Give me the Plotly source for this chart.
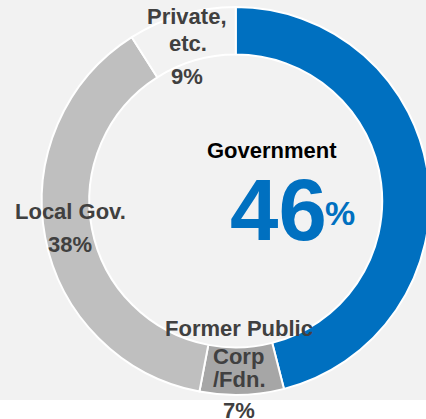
import plotly.graph_objects as go

# ---- data ----
categories = ["Government", "Former Public Corp/Fdn.", "Local Gov.", "Private, etc."]
shares = [46, 7, 38, 9]
slice_colors = ["#0070c0", "#a6a6a6", "#bfbfbf", "#f2f2f2"]

W, H = 430, 419

def px(x):
    return x / W

def py(y):
    return 1 - y / H

fig = go.Figure()
fig.add_trace(go.Pie(
    labels=categories,
    values=shares,
    sort=False,
    direction="clockwise",
    rotation=0,
    hole=0.755,
    marker=dict(colors=slice_colors, line=dict(color="white", width=2)),
    textinfo="none",
    hoverinfo="label+percent",
    showlegend=False,
    domain=dict(x=[px(41.5), 1.0], y=[py(395), py(7)]),
))

FONT = "Liberation Sans, Arial, sans-serif"
lab_font = dict(family=FONT, size=22, color="#404040")

def ann(text, x, y, font, **kw):
    fig.add_annotation(text=text, x=px(x), y=py(y), xref="paper", yref="paper",
                       xanchor="center", yanchor="middle", showarrow=False,
                       font=font, **kw)

# Category labels (text from categories / shares)
ann("<b>Private,</b>", 187, 17, lab_font)
ann("<b>etc.</b>", 188, 44, lab_font)
ann(f"<b>{shares[3]}%</b>", 187, 76, lab_font)

ann("<b>Local Gov.</b>", 70, 211, lab_font)
ann(f"<b>{shares[2]}%</b>", 70, 244, lab_font)

ann("<b>Former Public</b>", 239, 328, lab_font)
ann("<b>Corp</b>", 238, 356, lab_font)
ann("<b>/Fdn.</b>", 239, 379, lab_font)
ann(f"<b>{shares[1]}%</b>", 239, 410, lab_font)

ann("<b>Government</b>", 272, 150, dict(family=FONT, size=22, color="#000000"))
ann(f"<b>{shares[0]}</b>", 278, 209, dict(family=FONT, size=87, color="#0070c0"))
ann("<b>%</b>", 340, 213, dict(family=FONT, size=34, color="#0070c0"))

fig.update_layout(
    width=W, height=H,
    margin=dict(l=0, r=0, t=0, b=0),
    paper_bgcolor="white",
    shapes=[dict(type="rect", xref="paper", yref="paper", x0=0, x1=1,
                 y0=py(400), y1=1, fillcolor="#f2f2f2", line=dict(width=0),
                 layer="below")],
)

fig.write_html(
    "out.html",
    config={"displayModeBar": False},
    post_script="document.body.style.margin='0';document.body.style.overflow='hidden';",
)
